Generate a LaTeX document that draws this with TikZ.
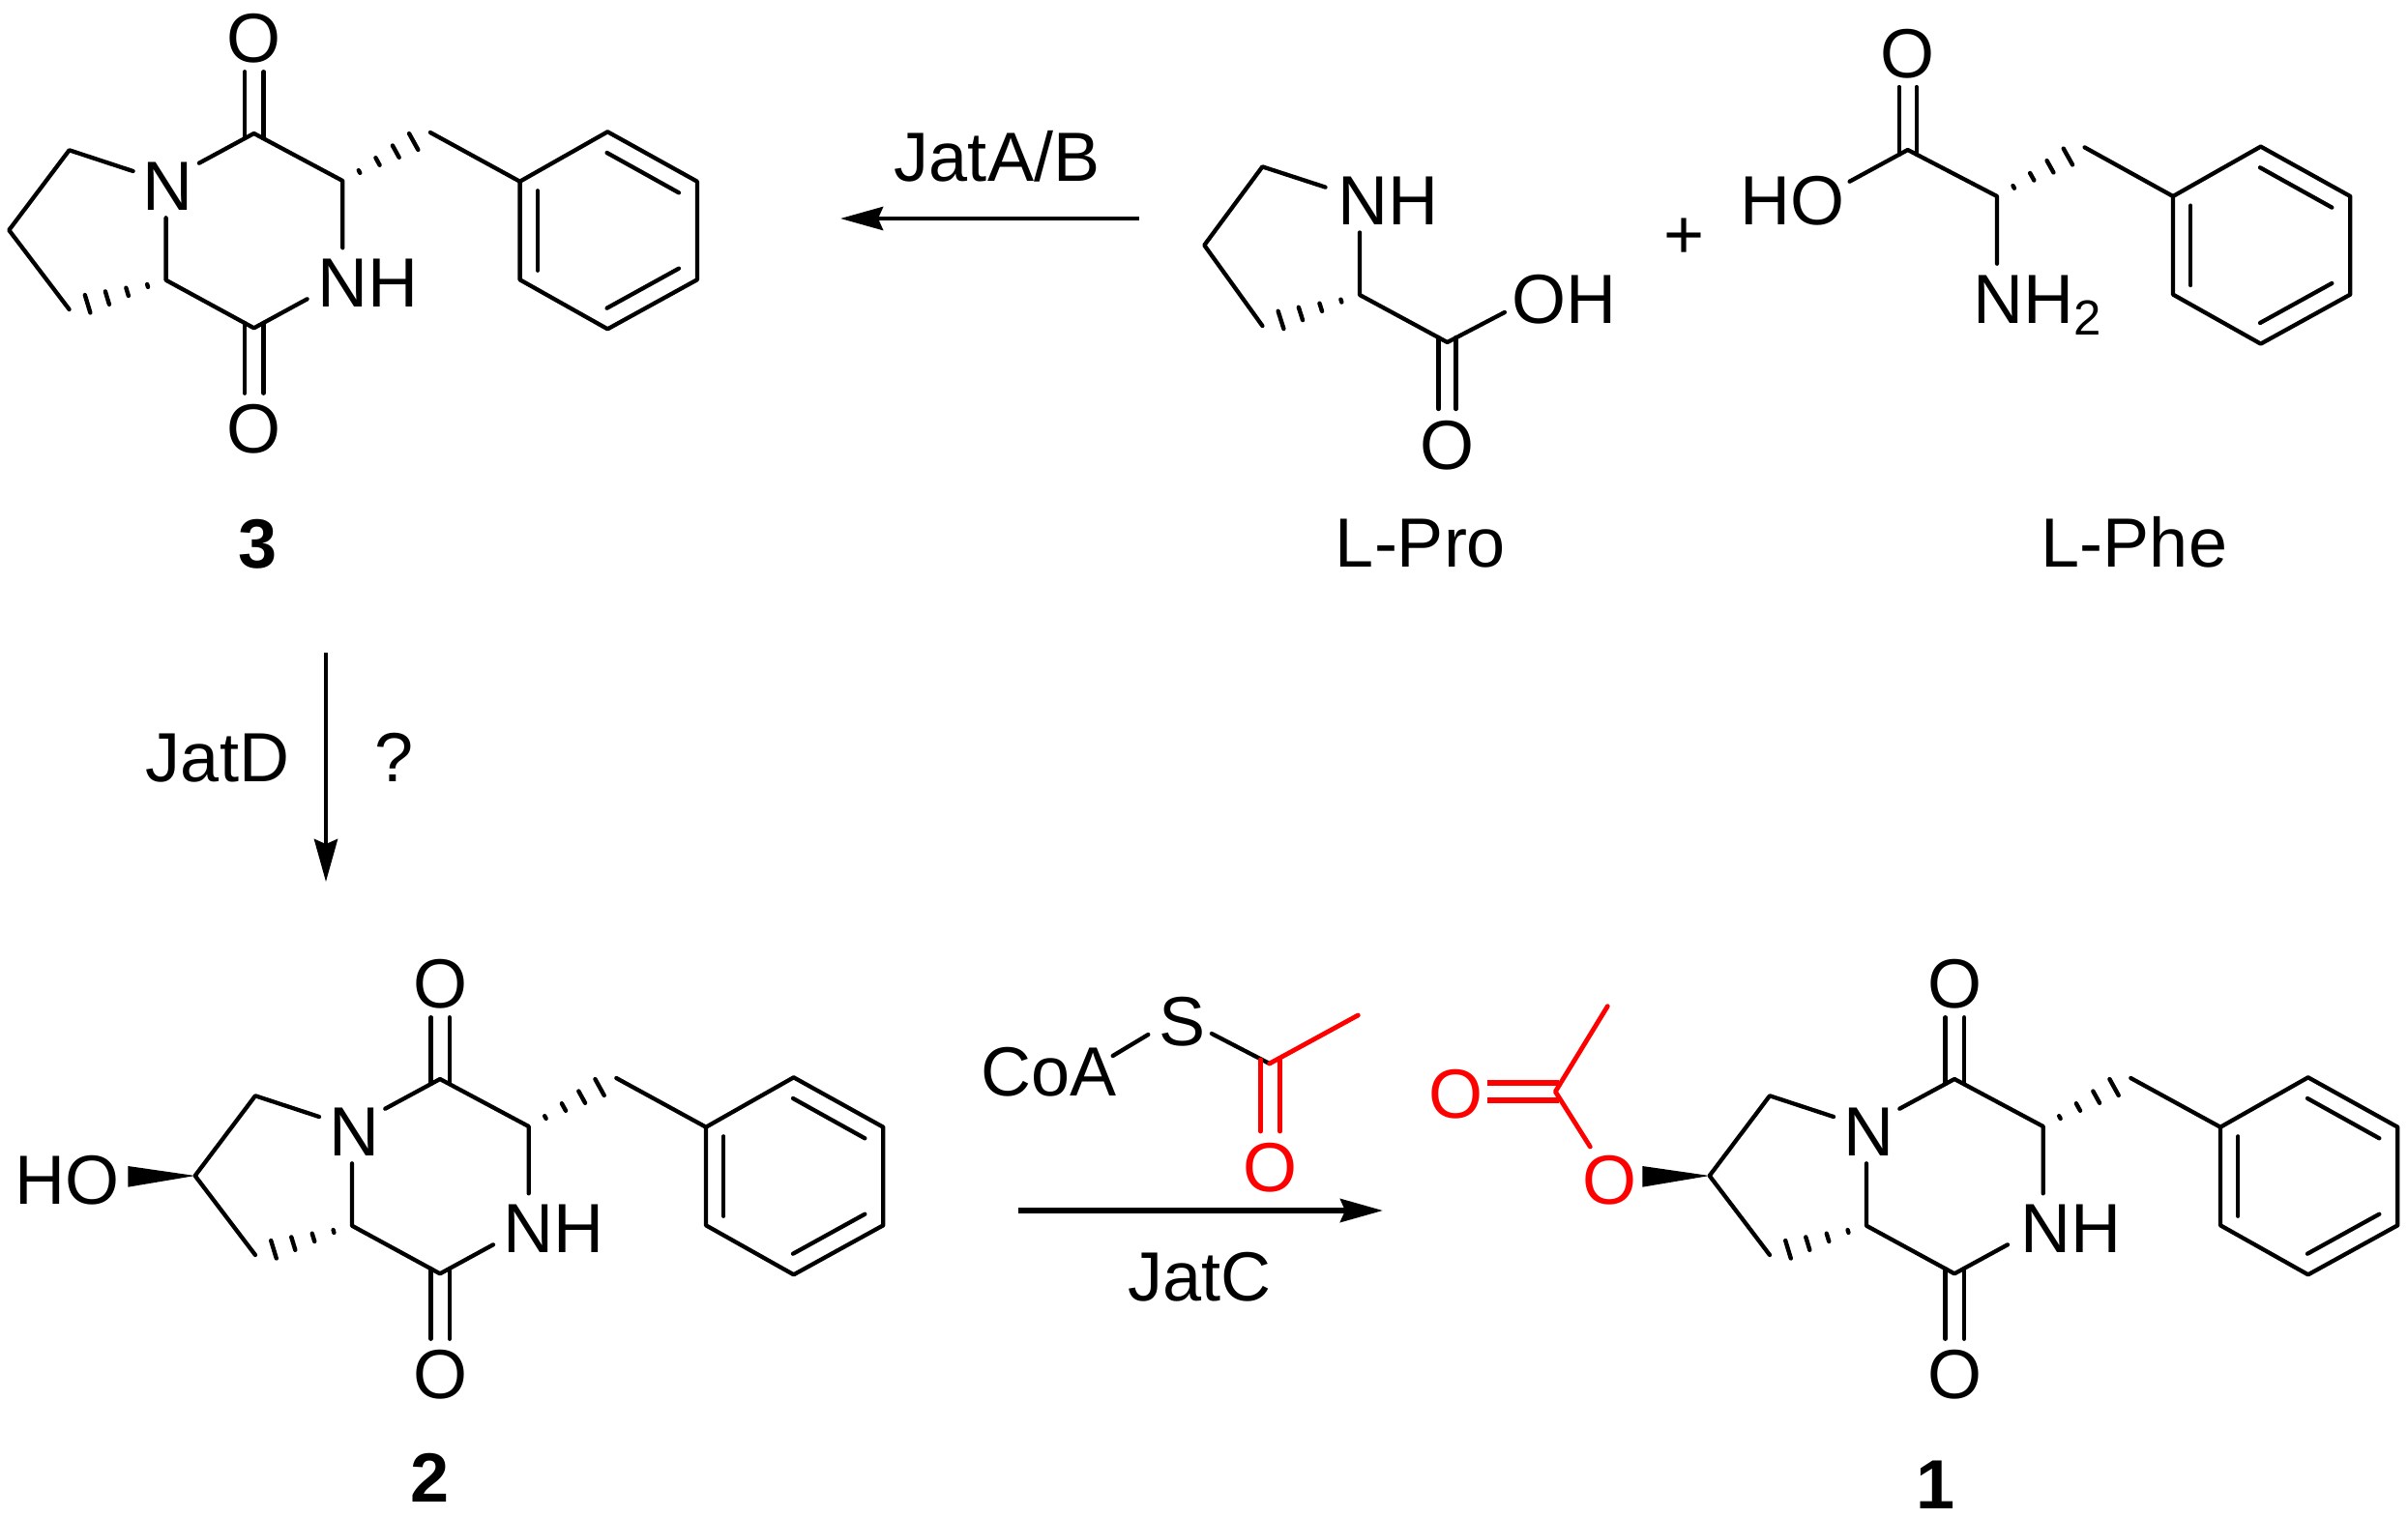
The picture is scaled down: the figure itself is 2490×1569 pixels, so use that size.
\documentclass[tikz,border=0pt]{standalone}
\usepackage{fontspec}
\setmainfont{Liberation Sans}
\usetikzlibrary{calc,arrows.meta}
\definecolor{acetylred}{HTML}{FF0000}
\tikzset{
  bond/.style={line width=4.3pt,line cap=round,line join=round},
  redbond/.style={bond,line width=4.8pt,draw=acetylred},
  hashline/.style={line width=4.4pt,line cap=round},
  atom/.style={font=\fontsize{72}{80}\selectfont,anchor=base,inner sep=0pt,outer sep=0pt},
  redatom/.style={atom,text=acetylred},
  numlabel/.style={atom,font=\fontsize{72}{80}\selectfont\bfseries},
  rxn/.style={line width=4.7pt,-{Stealth[length=44pt,width=24pt,inset=5pt]}},
  wedgefill/.style={fill=black,draw=none}
}
% hashed stereo bond: bars widen from #1 towards #2
\newcommand\hashbond[2]{%
  \foreach \hf/\hw in {.19/1.5,.4/4.3,.607/7,.81/9.6}{%
    \draw[hashline] ($(#1)!\hf!(#2)!\hw pt!90:(#2)$) -- ($(#1)!\hf!(#2)!\hw pt!-90:(#2)$);
  }%
}
% double bond: two strokes offset #4 on either side of #2--#3
\newcommand\dblbond[4][bond]{%
  \draw[#1] ($(#2)!#4 pt!90:(#3)$) -- ($(#3)!#4 pt!-90:(#2)$);
  \draw[#1] ($(#2)!#4 pt!-90:(#3)$) -- ($(#3)!#4 pt!90:(#2)$);
}
% phenyl ring: name prefix, ipso x, ipso y
\newcommand\phring[3]{%
  \begin{scope}[shift={(#2,#3)}]
    \coordinate (#1r1) at (0,0);
    \coordinate (#1r2) at (90.7,-51.4);
    \coordinate (#1r3) at (183.3,0);
    \coordinate (#1r4) at (183.3,101.6);
    \coordinate (#1r5) at (90.7,152.6);
    \coordinate (#1r6) at (0,101.6);
    \coordinate (#1i1) at (18.3,9.6);
    \coordinate (#1i2) at (18.3,92);
    \coordinate (#1i3) at (90,-29.7);
    \coordinate (#1i4) at (164.3,11.6);
    \coordinate (#1i5) at (164.3,90);
    \coordinate (#1i6) at (90,131);
    \draw[bond] (#1r1) -- (#1r2) -- (#1r3) -- (#1r4) -- (#1r5) -- (#1r6) -- cycle;
    \draw[bond] (#1i1) -- (#1i2);
    \draw[bond] (#1i3) -- (#1i4);
    \draw[bond] (#1i5) -- (#1i6);
  \end{scope}%
}
% proline-phenylalanine diketopiperazine: name prefix, shift x, shift y, NH x
\newcommand\dkp[4]{%
  \begin{scope}[shift={(#2,#3)}]
    \node[atom] (#1N) at (366,1195) {N};
    \node[atom] (#1NH) at (#4,1295.7) {NH};
    \node[atom] (#1Ot) at (455.3,1042) {O};
    \node[atom] (#1Ob) at (455.3,1446) {O};
    \coordinate (#1Ct) at (455,1116);
    \coordinate (#1Cb) at (455,1317.3);
    \coordinate (#1Ch) at (546.7,1165);
    \coordinate (#1Cf) at (364,1267.7);
    \coordinate (#1Na) at (398.3,1146.7);
    \coordinate (#1Nb) at (364,1203.3);
    \coordinate (#1Nc) at (330,1155);
    \coordinate (#1Hu) at (546.7,1234.3);
    \coordinate (#1Hl) at (510,1287.3);
    \coordinate (#1Pa) at (264,1133.3);
    \coordinate (#1Pb) at (201.7,1216);
    \coordinate (#1Pc) at (264,1298);
    \coordinate (#1Bn) at (637.3,1115);
    \coordinate (#1Ts) at (455.3,1121);
    \coordinate (#1Te) at (455.3,1052.2);
    \coordinate (#1Bs) at (455.3,1312);
    \coordinate (#1Be) at (455.3,1384.7);
    \draw[bond] (#1Na) -- (#1Ct) -- (#1Ch) -- (#1Hu);
    \draw[bond] (#1Hl) -- (#1Cb) -- (#1Cf) -- (#1Nb);
    \draw[bond] (#1Nc) -- (#1Pa) -- (#1Pb) -- (#1Pc);
    \dblbond{#1Ts}{#1Te}{9.7}
    \dblbond{#1Bs}{#1Be}{9.7}
    \hashbond{#1Ch}{#1Bn}
    \hashbond{#1Cf}{#1Pc}
  \end{scope}%
  \phring{#1}{730+#2}{1165.7+#3}
  \draw[bond] (#1Bn) -- (#1r1);
}
\begin{document}
\begin{tikzpicture}[x=1pt,y=-1pt]
\useasboundingbox (0,0) rectangle (2490,1569);
\path[fill=white] (0,0) rectangle (2490,1569);

% compound 3
\dkp{c}{-192.4}{-978}{572.5}
\node[numlabel] (lab3) at (267,587) {3};

% L-Pro
\node[atom] (pNH) at (1435,232.5) {NH};
\node[atom] (pOH) at (1617,334) {OH};
\node[atom] (pO) at (1496.6,485.5) {O};
\coordinate (p1) at (1370.5,193.6);
\coordinate (p2) at (1305.4,172.4);
\coordinate (p3) at (1245.3,253.6);
\coordinate (p4) at (1305.4,337);
\coordinate (p5) at (1406,240.5);
\coordinate (p6) at (1406,305);
\coordinate (p7) at (1496.6,354);
\coordinate (p8) at (1555.9,323);
\coordinate (p9) at (1496.6,349);
\coordinate (p10) at (1496.6,423);
\draw[bond] (p1) -- (p2) -- (p3) -- (p4);
\draw[bond] (p5) -- (p6) -- (p7) -- (p8);
\dblbond{p9}{p10}{9}
\hashbond{p6}{p4}
\node[atom] (lpro) at (1469,586) {L-Pro};

% plus
\node[atom] (plus) at (1742,267) {+};

% L-Phe
\node[atom] (fHO) at (1853,232.9) {HO};
\node[atom] (fO) at (1972.7,80.4) {O};
\node[atom] (fNH) at (2107,334) {NH\raisebox{-12pt}{\fontsize{51}{56}\selectfont 2}};
\coordinate (f1) at (1912.6,187.7);
\coordinate (f2) at (1972.7,155);
\coordinate (f3) at (2065,203);
\coordinate (f4) at (2065,272.7);
\coordinate (f5) at (2155.6,152.4);
\coordinate (f6) at (1972.7,160);
\coordinate (f7) at (1972.7,90);
\draw[bond] (f1) -- (f2) -- (f3) -- (f4);
\dblbond{f6}{f7}{9}
\hashbond{f3}{f5}
\phring{f}{2247}{203}
\draw[bond] (f5) -- (fr1);
\node[atom] (lphe) at (2207,586) {L-Phe};

% top arrow
\coordinate (a1s) at (1178,226);
\coordinate (a1e) at (869,226);
\draw[rxn] (a1s) -- (a1e);
\node[atom] (jab) at (1031,187) {JatA/B};

% left arrow
\coordinate (a2s) at (337,675);
\coordinate (a2e) at (337,912);
\draw[rxn] (a2s) -- (a2e);
\node[atom] (jd) at (225,808) {JatD};
\node[atom] (qm) at (408,808) {?};

% compound 2
\dkp{b}{0}{0}{572.5}
\node[atom] (bHO) at (70,1245) {HO};
\coordinate (bw1) at (132.3,1206);
\coordinate (bw2) at (132.3,1227.7);
\fill[wedgefill] (bPb) -- (bw1) -- (bw2) -- cycle;
\node[numlabel] (lab2) at (445,1553) {2};

% acetyl-CoA
\node[atom] (coa) at (1084.6,1133) {CoA};
\node[atom] (sul) at (1222.5,1081) {S};
\node[redatom] (aO) at (1313.6,1232) {O};
\coordinate (s1) at (1150.7,1092);
\coordinate (s2) at (1187.3,1070);
\coordinate (s3) at (1252.9,1069);
\coordinate (s4) at (1312.7,1100);
\coordinate (s5) at (1404.3,1050);
\coordinate (s6) at (1313.6,1096);
\coordinate (s7) at (1313.6,1170);
\draw[bond] (s1) -- (s2);
\draw[bond] (s3) -- (s4);
\draw[redbond] (s4) -- (s5);
\dblbond[redbond]{s6}{s7}{10}

% bottom arrow
\coordinate (a3s) at (1052.6,1252);
\coordinate (a3e) at (1430,1252);
\draw[rxn,line width=5.5pt] (a3s) -- (a3e);
\node[atom] (jc) at (1240.3,1345) {JatC};

% compound 1
\dkp{a}{1566}{0}{575.7}
\node[redatom] (eO1) at (1505.8,1156.5) {O};
\node[redatom] (eO2) at (1664.2,1245) {O};
\coordinate (e1) at (1662.3,1040.7);
\coordinate (e2) at (1608.3,1129);
\coordinate (e3) at (1644.3,1186);
\coordinate (e4) at (1538.3,1129);
\coordinate (e5) at (1612,1129);
\coordinate (aw1) at (1698.3,1206);
\coordinate (aw2) at (1698.3,1227.7);
\draw[redbond] (e1) -- (e2) -- (e3);
\dblbond[redbond,line width=5.4pt,line cap=butt]{e5}{e4}{9}
\fill[wedgefill] (aPb) -- (aw1) -- (aw2) -- cycle;
\node[numlabel] (lab1) at (2001,1560) {1};
\end{tikzpicture}
\end{document}
